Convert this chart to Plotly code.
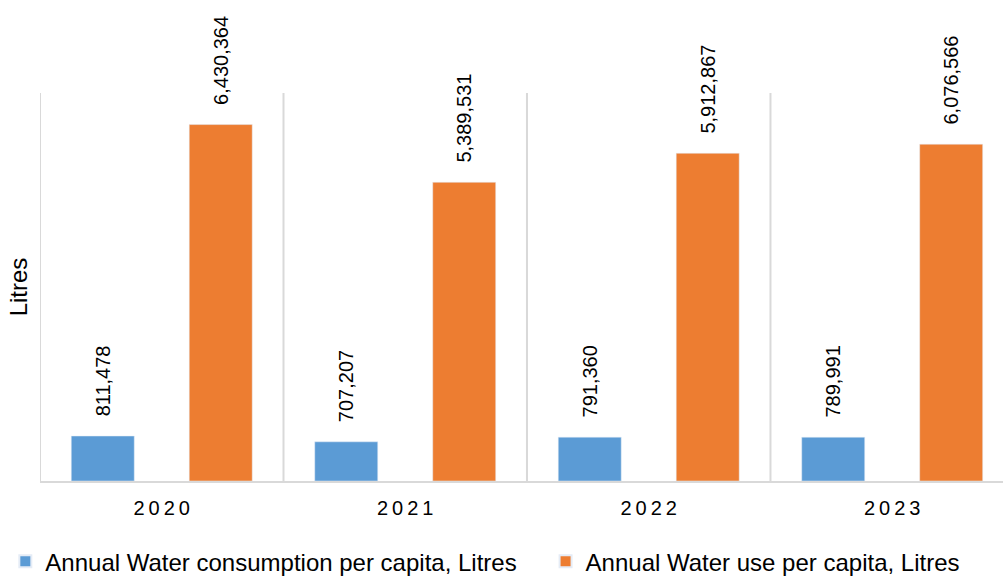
import plotly.graph_objects as go

years = ["2020", "2021", "2022", "2023"]
year_labels = ["2\u20090\u20092\u20090", "2\u20090\u20092\u20091", "2\u20090\u20092\u20092", "2\u20090\u20092\u20093"]
consumption = [811478, 707207, 791360, 789991]
water_use = [6430364, 5389531, 5912867, 6076566]

FONT = "Liberation Sans, Arial, sans-serif"
BLUE = "#5B9BD5"
ORANGE = "#ED7D31"
GRID = "#D9D9D9"

fig = go.Figure()
for name, vals, color, leg in [
    ("Annual Water consumption per capita, Litres", consumption, BLUE, "legend"),
    ("Annual Water use per capita, Litres", water_use, ORANGE, "legend2"),
]:
    fig.add_trace(go.Bar(
        x=years, y=vals, name=name, marker_color=color, legend=leg,
        texttemplate="\u00a0\u00a0\u00a0%{y:,}", textposition="outside",
        textangle=-90, constraintext="none", cliponaxis=False,
        textfont=dict(family=FONT, size=20, color="#000000"),
    ))

# category separators
for i in range(len(years)):
    fig.add_shape(type="line", xref="x", yref="paper", x0=i - 0.5, x1=i - 0.5,
                  y0=0, y1=1, line=dict(color=GRID, width=2), layer="below")

legend_style = dict(orientation="h", xanchor="left", y=-0.208, yanchor="middle",
                    font=dict(size=24), itemsizing="constant",
                    bgcolor="rgba(0,0,0,0)")

fig.update_layout(
    width=1003, height=577,
    margin=dict(l=40, r=0, t=93, b=96, autoexpand=False),
    paper_bgcolor="white", plot_bgcolor="white",
    barmode="group", bargap=0.031, bargroupgap=0.466,
    font=dict(family=FONT, size=20, color="#000000"),
    showlegend=True,
    legend=dict(x=-0.036, **legend_style),
    legend2=dict(x=0.525, **legend_style),
    xaxis=dict(range=[-0.5, 3.455], showgrid=False, zeroline=False,
               showline=True, linecolor=GRID, linewidth=2, ticks="",
               tickmode="array", tickvals=years, ticktext=year_labels,
               tickfont=dict(size=20), ticklabelstandoff=8),
    yaxis=dict(range=[0, 7000000], showgrid=False, zeroline=False,
               showticklabels=False, showline=False,
               title=dict(text="Litres", font=dict(size=24), standoff=4)),
)

fig.write_html("out.html")
